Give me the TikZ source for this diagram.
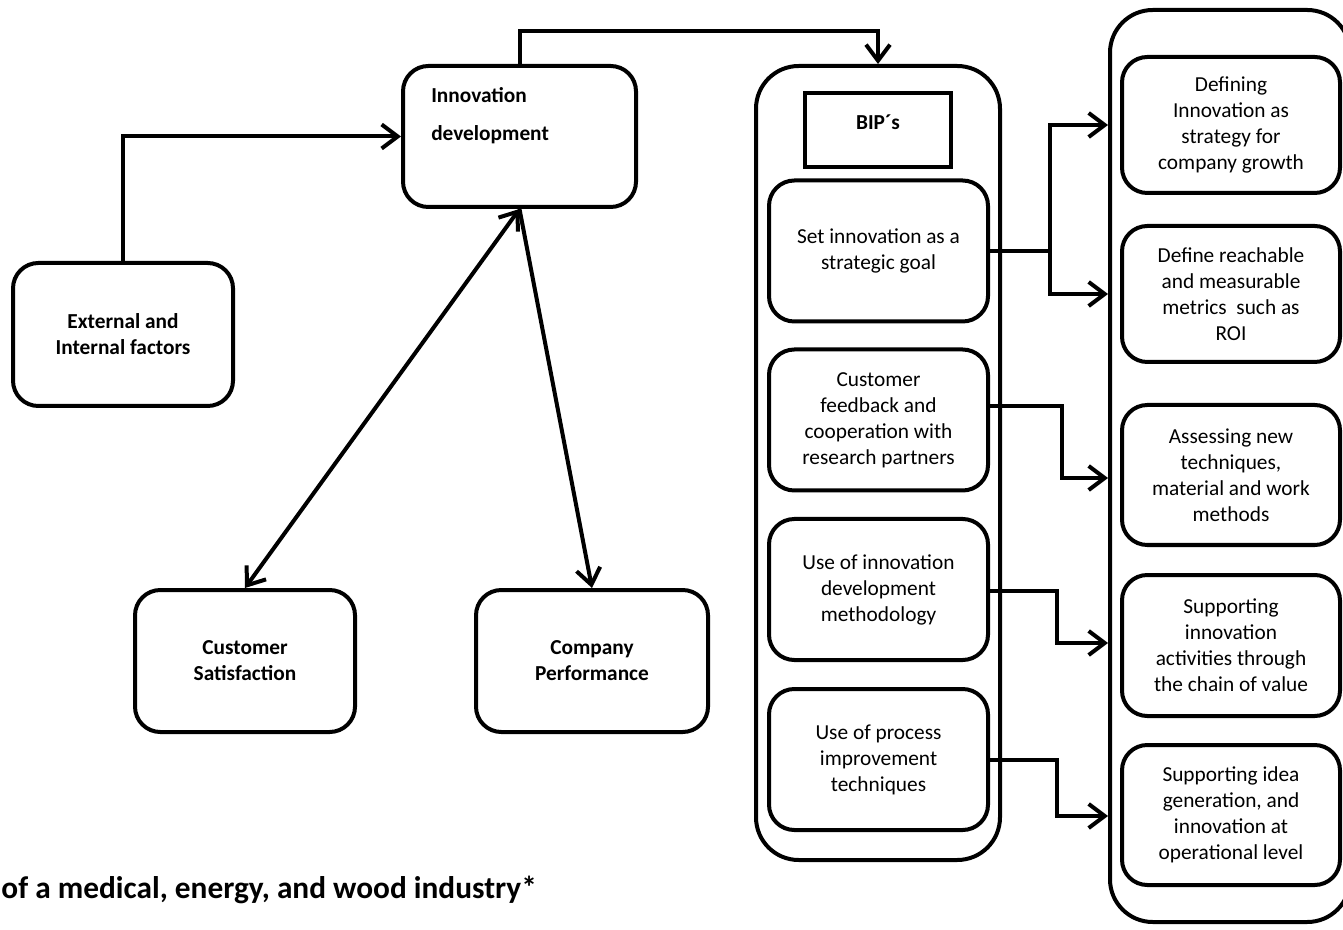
\documentclass[tikz,border=0pt]{standalone}
\usepackage{fontspec}
\setmainfont{Carlito}
\usetikzlibrary{arrows.meta,calc}
\begin{document}
\begin{tikzpicture}[x=0.75pt,y=-0.75pt,
  box/.style={draw,line width=3pt,rounded corners=19pt,inner sep=0pt,align=center},
  outerbox/.style={draw,line width=3pt,rounded corners=32pt,inner sep=0pt},
  rtext/.style={font=\fontsize{16}{19.5}\selectfont},
  ltext/.style={font=\bfseries\fontsize{16}{19.5}\selectfont},
  conn/.style={line width=3pt,-{Straight Barb[length=12pt,width=18pt,line width=3pt]}},
  dconn/.style={line width=3pt,{Straight Barb[length=12pt,width=18pt,line width=3pt]}-{Straight Barb[length=12pt,width=18pt,line width=3pt]}}
]
\useasboundingbox (0,0) rectangle (1343,930);
\clip (0,0) rectangle (1343,930);

% left part
\node[box,minimum width=174.75pt,minimum height=105.75pt] (innov) at (519.5,136.5) {};
\node[align=left,anchor=west,inner sep=0pt,font=\bfseries\fontsize{16}{28.5}\selectfont] (innovtext) at (431,116) {Innovation\\development};
\node[box,ltext,minimum width=165pt,minimum height=107.25pt] (ext) at (123,334.5) {External and\\Internal factors};
\node[box,ltext,minimum width=165pt,minimum height=106.5pt] (cust) at (245,661) {Customer\\Satisfaction};
\node[box,ltext,minimum width=174pt,minimum height=106.5pt] (comp) at (592,661) {Company\\Performance};

% BIP column
\node[outerbox,minimum width=183pt,minimum height=595.5pt] (bipouter) at (878,463) {};
\node[draw,line width=3pt,minimum width=109.5pt,minimum height=55.5pt,inner sep=0pt] (bips) at (878,130) {};
\node[ltext] (bipstext) at (878,122) {BIP´s};
\node[box,rtext,minimum width=164.25pt,minimum height=105.75pt] (s1) at (878.5,251) {Set innovation as a\\strategic goal};
\node[box,rtext,minimum width=164.25pt,minimum height=105.75pt] (s2) at (878.5,420) {Customer\\feedback and\\cooperation with\\research partners};
\node[box,rtext,minimum width=164.25pt,minimum height=105.75pt] (s3) at (878.5,589.5) {Use of innovation\\development\\methodology};
\node[box,rtext,minimum width=164.25pt,minimum height=105.75pt] (s4) at (878.5,759.5) {Use of process\\improvement\\techniques};

% right column
\node[outerbox,minimum width=180pt,minimum height=684pt] (rout) at (1230,466) {};
\node[box,rtext,minimum width=163.5pt,minimum height=102pt] (r1) at (1231,125) {Defining\\Innovation as\\strategy for\\company growth};
\node[box,rtext,minimum width=163.5pt,minimum height=102pt] (r2) at (1231,294) {Define reachable\\and measurable\\metrics\ \ such as\\ROI};
\node[box,rtext,minimum width=163.5pt,minimum height=105pt] (r3) at (1231,475) {Assessing new\\techniques,\\material and work\\methods};
\node[box,rtext,minimum width=163.5pt,minimum height=105.75pt] (r4) at (1231,645.5) {Supporting\\innovation\\activities through\\the chain of value};
\node[box,rtext,minimum width=163.5pt,minimum height=105pt] (r5) at (1231,815) {Supporting idea\\generation, and\\innovation at\\operational level};

% caption
\node[anchor=east,inner sep=0pt,font=\bfseries\fontsize{23.5}{28}\selectfont] (caption) at (537,890) {of a medical, energy, and wood industry*};

% connectors
\draw[conn] (ext.north) |- (innov.west);
\draw[conn] (innov.north) -- ++(0,-33) -| (bipouter.north);
\draw[dconn] (cust.north) -- (innov.south);
\draw[conn] (innov.south) -- (comp.north);

\coordinate (j1) at ($(s1.east)+(60,0)$);
\draw[line width=3pt] (s1.east) -- (j1);
\draw[conn] (j1) |- (rout.west |- r1.west);
\draw[conn] (j1) |- (rout.west |- r2.west);
\draw[conn] ($(s2.east)+(0,-14)$) -| ($(s2.east)+(72,58)$) -- (rout.west |- {$(s2.east)+(0,58)$});
\draw[conn] ($(s3.east)+(0,1.5)$) -| ($(s3.east)+(67,53.5)$) -- (rout.west |- {$(s3.east)+(0,53.5)$});
\draw[conn] ($(s4.east)+(0,0.5)$) -| ($(s4.east)+(67,56.5)$) -- (rout.west |- {$(s4.east)+(0,56.5)$});
\end{tikzpicture}
\end{document}
